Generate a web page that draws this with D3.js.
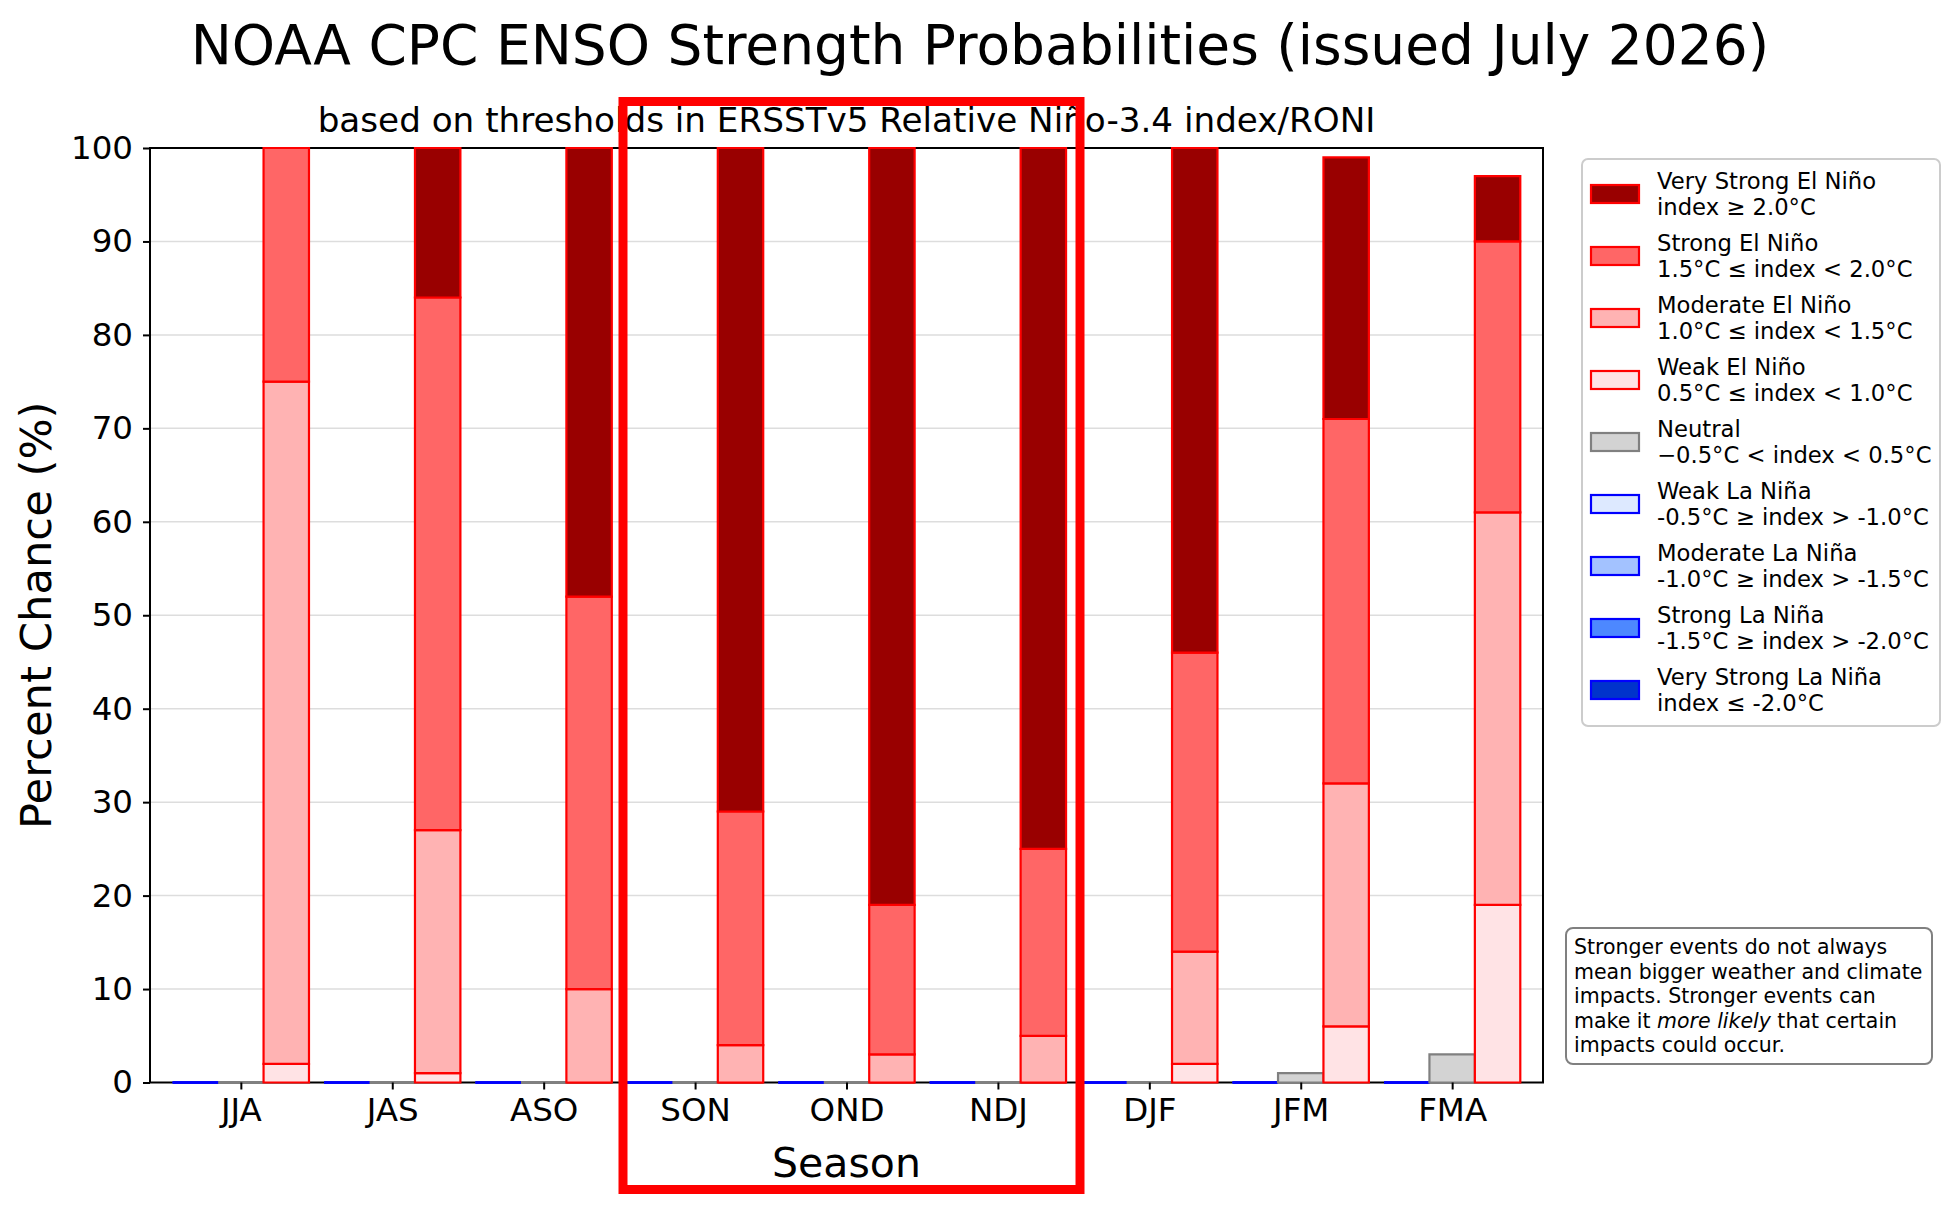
<!DOCTYPE html>
<html>
<head>
<meta charset="utf-8">
<script src="https://cdn.jsdelivr.net/npm/d3@7/dist/d3.min.js"></script>
<style>
  body { margin: 0; background: #fff; }
  text { font-family: "DejaVu Sans", sans-serif; fill: #000; }
</style>
</head>
<body>
<svg id="chart" width="1960" height="1207"></svg>
<script>
// seasons and per-category probabilities (%)
const seasons = ['JJA', 'JAS', 'ASO', 'SON', 'OND', 'NDJ', 'DJF', 'JFM', 'FMA'];

const veryStrongElNino = [0, 16, 48, 71, 81, 75, 54, 28, 7];
const strongElNino     = [25, 57, 42, 25, 16, 20, 32, 39, 29];
const moderateElNino   = [73, 26, 10, 4, 3, 5, 12, 26, 42];
const weakElNino       = [2, 1, 0, 0, 0, 0, 2, 6, 19];
const neutral          = [0, 0, 0, 0, 0, 0, 0, 1, 3];
const weakLaNina       = [0, 0, 0, 0, 0, 0, 0, 0, 0];
const moderateLaNina   = [0, 0, 0, 0, 0, 0, 0, 0, 0];
const strongLaNina     = [0, 0, 0, 0, 0, 0, 0, 0, 0];
const veryStrongLaNina = [0, 0, 0, 0, 0, 0, 0, 0, 0];

const yTicks = [0, 10, 20, 30, 40, 50, 60, 70, 80, 90, 100];

const legendNames = [
  ['Very Strong El Niño', 'index ≥ 2.0°C'],
  ['Strong El Niño', '1.5°C ≤ index < 2.0°C'],
  ['Moderate El Niño', '1.0°C ≤ index < 1.5°C'],
  ['Weak El Niño', '0.5°C ≤ index < 1.0°C'],
  ['Neutral', '−0.5°C < index < 0.5°C'],
  ['Weak La Niña', '-0.5°C ≥ index > -1.0°C'],
  ['Moderate La Niña', '-1.0°C ≥ index > -1.5°C'],
  ['Strong La Niña', '-1.5°C ≥ index > -2.0°C'],
  ['Very Strong La Niña', 'index ≤ -2.0°C']
];

const noteLines = [
  'Stronger events do not always',
  'mean bigger weather and climate',
  'impacts. Stronger events can',
  null, // italic line built below
  'impacts could occur.'
];

// styles per category (legend order)
const fills   = ['#990000', '#ff6666', '#ffb3b3', '#ffe3e5', '#d3d3d3', '#dde9ff', '#a3c2ff', '#4d88ff', '#0033cc'];
const strokes = ['#ff0000', '#ff0000', '#ff0000', '#ff0000', '#808080', '#0000ff', '#0000ff', '#0000ff', '#0000ff'];

const svg = d3.select('#chart');

const x = d3.scaleLinear().domain([-0.6, 8.6]).range([150, 1543]);
const y = d3.scaleLinear().domain([0, 100]).range([1082.5, 148]);
const barW = 0.3;
const bw = x(barW) - x(0);

// grid
svg.append('g')
  .selectAll('line')
  .data(yTicks.slice(1, -1))
  .join('line')
  .attr('x1', x(-0.6)).attr('x2', x(8.6))
  .attr('y1', d => y(d)).attr('y2', d => y(d))
  .attr('stroke', '#dddddd')
  .attr('stroke-width', 1.5);

// spines
svg.append('rect')
  .attr('x', x(-0.6)).attr('y', y(100))
  .attr('width', x(8.6) - x(-0.6)).attr('height', y(0) - y(100))
  .attr('fill', 'none').attr('stroke', '#000').attr('stroke-width', 2);

// stacked groups: offset, keys (bottom -> top), index into styles
const groups = [
  { offset: -barW, series: [weakLaNina, moderateLaNina, strongLaNina, veryStrongLaNina], style: [5, 6, 7, 8] },
  { offset: 0, series: [neutral], style: [4] },
  { offset: barW, series: [weakElNino, moderateElNino, strongElNino, veryStrongElNino], style: [3, 2, 1, 0] }
];

// bars as paths so zero-height bars still show their edge
function barPath(x0, y0, y1) {
  return `M${x0},${y0}H${x0 + bw}V${y1}H${x0}Z`;
}

groups.forEach(g => {
  const keys = g.series.map((s, k) => 'k' + k);
  const table = seasons.map((s, i) => {
    const row = { i };
    g.series.forEach((arr, k) => { row['k' + k] = arr[i]; });
    return row;
  });
  const stacked = d3.stack().keys(keys)(table);
  stacked.forEach((layer, k) => {
    svg.append('g')
      .selectAll('path')
      .data(layer)
      .join('path')
      .attr('d', d => barPath(x(d.data.i + g.offset) - bw / 2, y(d[0]), y(d[1])))
      .attr('fill', fills[g.style[k]])
      .attr('stroke', strokes[g.style[k]])
      .attr('stroke-width', 2.2);
  });
});

// axes
const xAxis = svg.append('g')
  .attr('transform', `translate(0,${y(0)})`)
  .call(d3.axisBottom(x).tickValues(d3.range(seasons.length)).tickFormat(i => seasons[i]).tickSize(7).tickPadding(8));
xAxis.select('.domain').remove();
xAxis.selectAll('line').attr('stroke-width', 2);
xAxis.selectAll('text').attr('font-size', 32.5).attr('font-family', '"DejaVu Sans", sans-serif');

const yAxis = svg.append('g')
  .attr('transform', `translate(${x(-0.6)},0)`)
  .call(d3.axisLeft(y).tickValues(yTicks).tickSize(7).tickPadding(10));
yAxis.select('.domain').remove();
yAxis.selectAll('line').attr('stroke-width', 2);
yAxis.selectAll('text').attr('font-size', 32.5).attr('font-family', '"DejaVu Sans", sans-serif');

// titles
svg.append('text')
  .attr('x', 980).attr('y', 64)
  .attr('text-anchor', 'middle')
  .attr('font-size', 55)
  .text('NOAA CPC ENSO Strength Probabilities (issued July 2026)');

svg.append('text')
  .attr('x', (x(-0.6) + x(8.6)) / 2).attr('y', 132)
  .attr('text-anchor', 'middle')
  .attr('font-size', 34.2)
  .text('based on thresholds in ERSSTv5 Relative Niño-3.4 index/RONI');

svg.append('text')
  .attr('x', (x(-0.6) + x(8.6)) / 2).attr('y', 1177)
  .attr('text-anchor', 'middle')
  .attr('font-size', 41)
  .text('Season');

svg.append('text')
  .attr('transform', `translate(51,${(y(0) + y(100)) / 2}) rotate(-90)`)
  .attr('text-anchor', 'middle')
  .attr('font-size', 43.3)
  .text('Percent Chance (%)');

// legend
const lg = svg.append('g');
lg.append('rect')
  .attr('x', 1582).attr('y', 159).attr('width', 358).attr('height', 567)
  .attr('rx', 6).attr('fill', '#fff').attr('stroke', '#cccccc').attr('stroke-width', 2);

const items = lg.selectAll('g.item')
  .data(legendNames)
  .join('g')
  .attr('class', 'item')
  .attr('transform', (d, k) => `translate(1591,${194 + k * 62})`);
items.append('rect')
  .attr('x', 0).attr('y', -9).attr('width', 48).attr('height', 18)
  .attr('fill', (d, k) => fills[k])
  .attr('stroke', (d, k) => strokes[k])
  .attr('stroke-width', 2.2);
items.append('text')
  .attr('x', 66).attr('y', -5)
  .attr('font-size', 22.7)
  .text(d => d[0]);
items.append('text')
  .attr('x', 66).attr('y', 21)
  .attr('font-size', 22.7)
  .text(d => d[1]);

// note box
const ng = svg.append('g');
ng.append('rect')
  .attr('x', 1566).attr('y', 928).attr('width', 366).attr('height', 136)
  .attr('rx', 7).attr('fill', '#fff').attr('stroke', '#808080').attr('stroke-width', 2);
noteLines.forEach((line, k) => {
  const t = ng.append('text')
    .attr('x', 1574).attr('y', 954 + k * 24.5)
    .attr('font-size', 20.5);
  if (line === null) {
    t.append('tspan').text('make it ');
    t.append('tspan').attr('font-style', 'italic').text('more likely');
    t.append('tspan').text(' that certain');
  } else {
    t.text(line);
  }
});

// highlight frame
svg.append('rect')
  .attr('x', 623).attr('y', 101.5).attr('width', 457).attr('height', 1088)
  .attr('fill', 'none').attr('stroke', '#ff0000').attr('stroke-width', 9);
</script>
</body>
</html>
